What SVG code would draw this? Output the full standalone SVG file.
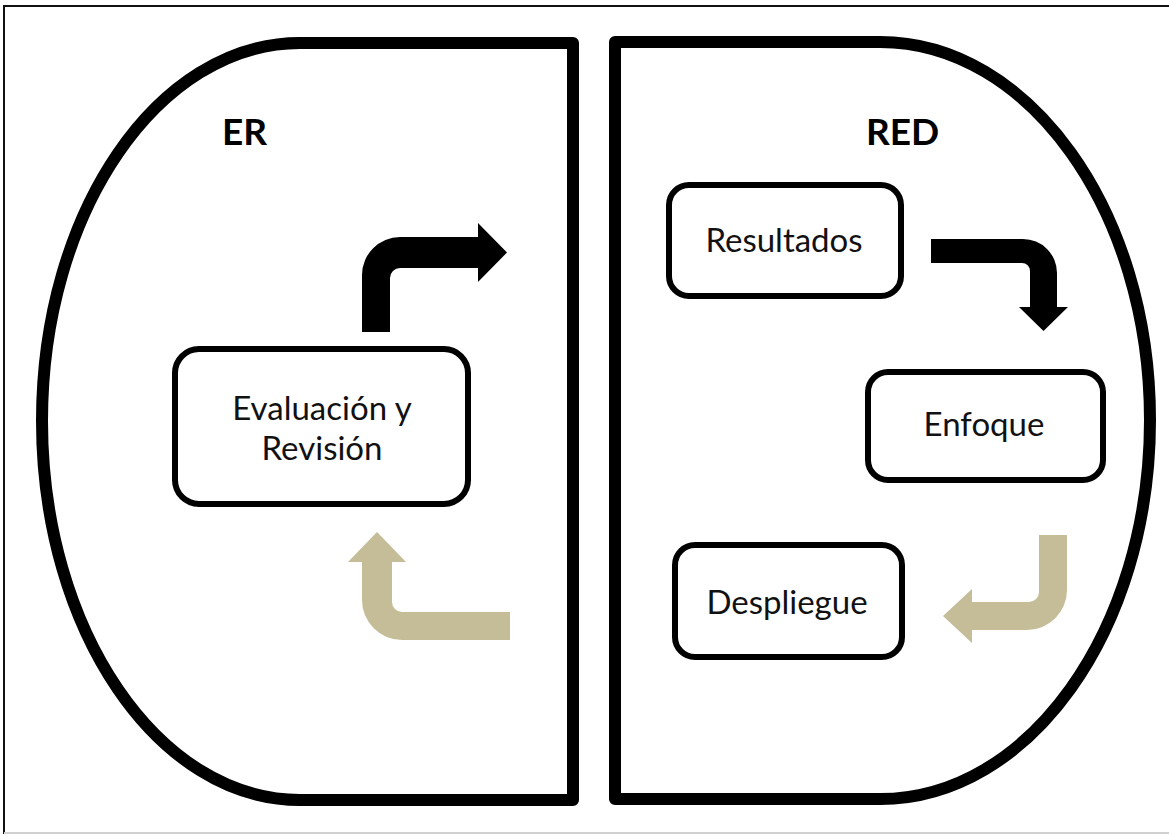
<svg xmlns="http://www.w3.org/2000/svg" width="1169" height="836" viewBox="0 0 1169 836">
  <style>
    .panel { fill: #ffffff; stroke: #000000; stroke-width: 12; stroke-linejoin: round; }
    .box { fill: #ffffff; stroke: #000000; stroke-width: 6; }
    .title { font-family: Lato, "Open Sans", sans-serif; font-weight: bold; font-size: 37px; fill: #000000; }
    .label { font-family: Lato, "Open Sans", sans-serif; font-size: 33px; fill: #111111; text-anchor: middle; }
    .arrow-dark { fill: #000000; }
    .arrow-tan { fill: #C4BD97; }
  </style>

  <!-- page frame -->
  <rect x="0" y="0" width="1169" height="836" fill="#ffffff"/>
  <path d="M 4 834 V 6 H 1169" fill="none" stroke="#111111" stroke-width="2"/>
  <path d="M 4 833 H 1169" fill="none" stroke="#d0d0d0" stroke-width="2"/>

  <!-- left half: ER -->
  <g id="panel-er">
    <path class="panel" d="M 300 43 H 573 V 800 H 300 C 158 800 42 630 42 421 C 42 212 158 43 300 43 Z"/>
    <text class="title" x="222" y="145">ER</text>
  </g>

  <!-- right half: RED -->
  <g id="panel-red">
    <path class="panel" d="M 880 42 H 615 V 799 H 880 C 1029 799 1150 630 1150 420 C 1150 211 1029 42 880 42 Z"/>
    <text class="title" x="866" y="145">RED</text>
  </g>

  <g id="node-evaluacion">
    <rect class="box" x="175" y="349" width="293" height="155" rx="24" ry="24"/>
    <text class="label" x="322" y="420">Evaluación y</text>
    <text class="label" x="322" y="460">Revisión</text>
  </g>

  <g id="node-resultados">
    <rect class="box" x="669" y="185" width="232" height="111" rx="20" ry="20"/>
    <text class="label" x="784" y="252">Resultados</text>
  </g>

  <g id="node-enfoque">
    <rect class="box" x="868" y="372" width="235" height="108" rx="20" ry="20"/>
    <text class="label" x="984" y="436">Enfoque</text>
  </g>

  <g id="node-despliegue">
    <rect class="box" x="675" y="545" width="227" height="112" rx="20" ry="20"/>
    <text class="label" x="787" y="614">Despliegue</text>
  </g>

  <!-- bent block arrows -->
  <g id="connectors">
    <path class="arrow-dark" d="M 362 332 V 275 A 38 38 0 0 1 400 237 H 478 V 223 L 507 252.5 L 478 282 V 268 H 400 A 10 10 0 0 0 390 278 V 332 Z"/>
    <path class="arrow-tan" d="M 510 612 H 402 A 10 10 0 0 1 392 602 V 562 H 406 L 377 532 L 348 562 H 362 V 600 A 40 40 0 0 0 402 640 H 510 Z"/>
    <path class="arrow-dark" d="M 931 239 H 1023 A 34 34 0 0 1 1057 273 V 307 H 1068 L 1043.5 331 L 1019 307 H 1030 V 271 A 8 8 0 0 0 1022 263 H 931 Z"/>
    <path class="arrow-tan" d="M 1039 535 H 1067 V 590 A 40 40 0 0 1 1027 630 H 972 V 643 L 943 616 L 972 589 V 602 H 1029 A 10 10 0 0 0 1039 592 Z"/>
  </g>
</svg>
